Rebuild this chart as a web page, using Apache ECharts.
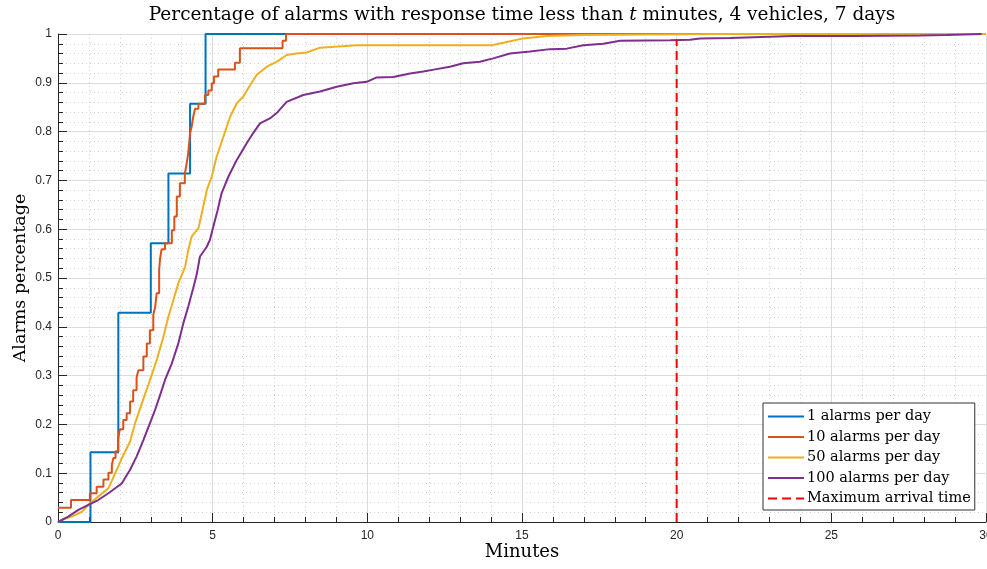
<!DOCTYPE html>
<html>
<head>
<meta charset="utf-8">
<script src="https://cdn.jsdelivr.net/npm/echarts/dist/echarts.min.js"></script>
<style>
  html, body { margin: 0; padding: 0; background: #fff; }
  #chartBox { width: 987px; height: 569px; }
</style>
</head>
<body>
<div id="chartBox"></div>
<script>
// legend names
const seriesNames = ['1 alarms per day', '10 alarms per day', '50 alarms per day', '100 alarms per day', 'Maximum arrival time']

// [minutes, fraction]
const oneAlarm = [[0, 0], [1.05, 0.143], [1.95, 0.429], [3.0, 0.571], [3.57, 0.714], [4.27, 0.857], [4.77, 1], [30, 1]]

const tenAlarms = [
  [0, 0.029], [0.42, 0.045], [1.03, 0.059], [1.25, 0.072], [1.47, 0.087], [1.63, 0.101], [1.74, 0.116],
  [1.79, 0.131], [1.86, 0.145], [1.94, 0.17], [2.0, 0.19], [2.11, 0.209], [2.22, 0.223], [2.33, 0.247],
  [2.43, 0.27], [2.54, 0.296], [2.6, 0.311], [2.76, 0.339], [2.87, 0.366], [2.97, 0.393], [3.08, 0.424],
  [3.14, 0.44], [3.19, 0.469], [3.27, 0.516], [3.3, 0.54], [3.35, 0.559], [3.46, 0.571], [3.68, 0.598],
  [3.76, 0.626], [3.84, 0.667], [3.94, 0.694], [4.1, 0.714], [4.16, 0.735], [4.21, 0.756], [4.27, 0.797],
  [4.32, 0.81], [4.37, 0.83], [4.43, 0.847], [4.54, 0.857], [4.75, 0.875], [4.86, 0.884], [4.97, 0.899],
  [5.04, 0.913], [5.18, 0.927], [5.72, 0.941], [5.88, 0.971], [7.26, 0.986], [7.37, 1], [30, 1]
]

const fiftyAlarms = [
  [0, 0], [0.12, 0.004], [0.44, 0.011], [0.77, 0.021], [1.03, 0.038], [1.3, 0.052], [1.63, 0.069],
  [1.9, 0.107], [2.06, 0.13], [2.33, 0.165], [2.49, 0.202], [2.71, 0.243], [2.92, 0.281], [3.08, 0.311],
  [3.19, 0.332], [3.41, 0.38], [3.57, 0.421], [3.73, 0.455], [3.89, 0.489], [4.11, 0.523], [4.21, 0.557],
  [4.32, 0.585], [4.54, 0.602], [4.67, 0.639], [4.81, 0.68], [4.97, 0.708], [5.13, 0.749], [5.35, 0.79],
  [5.56, 0.83], [5.78, 0.858], [5.99, 0.872], [6.21, 0.895], [6.42, 0.916], [6.75, 0.933], [7.07, 0.943],
  [7.39, 0.957], [7.72, 0.96], [8.04, 0.962], [8.47, 0.972], [9.66, 0.977], [14.02, 0.977], [14.4, 0.982],
  [15.04, 0.991], [15.8, 0.996], [17.0, 0.998], [21.3, 1], [30, 1]
]

const hundredAlarms = [
  [0, 0], [0.01, 0.003], [0.33, 0.011], [0.66, 0.025], [0.98, 0.035], [1.3, 0.045], [1.63, 0.059],
  [2.06, 0.079], [2.33, 0.107], [2.54, 0.134], [2.76, 0.168], [2.97, 0.202], [3.14, 0.23], [3.3, 0.26],
  [3.46, 0.291], [3.68, 0.325], [3.89, 0.366], [4.05, 0.407], [4.21, 0.441], [4.37, 0.479], [4.48, 0.506],
  [4.59, 0.544], [4.81, 0.564], [4.91, 0.578], [5.02, 0.605], [5.16, 0.639], [5.29, 0.674], [5.51, 0.708],
  [5.78, 0.742], [6.1, 0.776], [6.31, 0.797], [6.53, 0.817], [6.85, 0.827], [7.07, 0.838], [7.39, 0.861],
  [7.93, 0.875], [8.47, 0.882], [9.01, 0.892], [9.55, 0.899], [9.98, 0.902], [10.3, 0.911], [10.84, 0.912],
  [11.38, 0.919], [11.81, 0.923], [12.24, 0.928], [12.67, 0.933], [13.1, 0.94], [13.64, 0.943],
  [14.07, 0.95], [14.61, 0.96], [15.26, 0.964], [15.91, 0.969], [16.45, 0.97], [16.98, 0.977],
  [17.63, 0.98], [18.17, 0.986], [19.79, 0.987], [20.43, 0.988], [20.76, 0.991], [21.73, 0.992],
  [23.76, 0.996], [25.7, 0.996], [27.87, 0.997], [28.73, 0.998], [29.86, 1]
]

const maxArrival = [[20, 0], [20, 0.988]]

const serif = 'DejaVu Serif'
const axisColor = '#262626'

const chart = echarts.init(document.getElementById('chartBox'))
const option = {
  animation: false,
  backgroundColor: '#fff',
  title: {
    text: 'Percentage of alarms with response time less than {t|t} minutes, 4 vehicles, 7 days',
    left: 522,
    top: 6,
    padding: 0,
    textAlign: 'center',
    textStyle: {
      fontFamily: serif,
      fontSize: 18.5,
      fontWeight: 'normal',
      color: '#000',
      rich: {
        t: { fontFamily: serif, fontSize: 18.5, fontStyle: 'italic', color: '#000' }
      }
    }
  },
  legend: {
    orient: 'vertical',
    left: 763,
    top: 403,
    padding: [6, 4, 4, 4],
    itemWidth: 36,
    itemHeight: 14,
    itemGap: 5.5,
    // hide the default circle marker, keep the line sample
    itemStyle: { opacity: 0 },
    backgroundColor: '#fff',
    borderColor: '#333',
    borderWidth: 1,
    data: seriesNames,
    textStyle: { fontFamily: serif, fontSize: 14.5, color: '#000', padding: [0, 0, 0, -2] }
  },
  grid: {
    left: 58,
    right: 1,
    top: 34,
    bottom: 47,
    containLabel: false,
    outerBoundsMode: 'none'
  },
  xAxis: {
    type: 'value',
    min: 0,
    max: 30,
    interval: 5,
    name: 'Minutes',
    nameLocation: 'middle',
    nameGap: 21,
    nameMoveOverlap: false,
    nameTextStyle: { fontFamily: serif, fontSize: 18, color: '#000', verticalAlign: 'top' },
    axisLine: { lineStyle: { color: axisColor, width: 1 } },
    axisTick: { inside: true, length: 9, lineStyle: { color: axisColor } },
    minorTick: { show: true, splitNumber: 5, length: 5, lineStyle: { color: axisColor } },
    axisLabel: { color: axisColor, fontSize: 12, fontFamily: 'Liberation Sans', margin: 8 },
    splitLine: { show: true, lineStyle: { color: '#dcdcdc', width: 1 } },
    minorSplitLine: { show: true, lineStyle: { color: '#d2d2d2', width: 1, type: [1, 3] } }
  },
  yAxis: {
    type: 'value',
    min: 0,
    max: 1,
    interval: 0.1,
    name: 'Alarms percentage',
    nameLocation: 'middle',
    nameGap: 29,
    nameMoveOverlap: false,
    nameTextStyle: { fontFamily: serif, fontSize: 17.5, color: '#000' },
    axisLine: { show: true, lineStyle: { color: axisColor, width: 1 } },
    axisTick: { show: true, inside: true, length: 9, lineStyle: { color: axisColor } },
    minorTick: { show: true, splitNumber: 5, length: 5, lineStyle: { color: axisColor } },
    axisLabel: { color: axisColor, fontSize: 12, fontFamily: 'Liberation Sans', margin: 6 },
    splitLine: { show: true, lineStyle: { color: '#dcdcdc', width: 1 } },
    minorSplitLine: { show: true, lineStyle: { color: '#d2d2d2', width: 1, type: [1, 3] } }
  },
  series: [
    {
      name: seriesNames[0],
      type: 'line',
      step: 'end',
      data: oneAlarm,
      symbol: 'none',
      lineStyle: { color: '#0072BD', width: 2 },
      itemStyle: { color: '#0072BD' }
    },
    {
      name: seriesNames[1],
      type: 'line',
      step: 'end',
      data: tenAlarms,
      symbol: 'none',
      lineStyle: { color: '#D95319', width: 2 },
      itemStyle: { color: '#D95319' }
    },
    {
      name: seriesNames[2],
      type: 'line',
      data: fiftyAlarms,
      symbol: 'none',
      lineStyle: { color: '#EDB120', width: 2 },
      itemStyle: { color: '#EDB120' }
    },
    {
      name: seriesNames[3],
      type: 'line',
      data: hundredAlarms,
      symbol: 'none',
      lineStyle: { color: '#7E2F8E', width: 2 },
      itemStyle: { color: '#7E2F8E' }
    },
    {
      name: seriesNames[4],
      type: 'line',
      data: maxArrival,
      symbol: 'none',
      lineStyle: { color: '#FF0000', width: 2, type: [9, 5] },
      itemStyle: { color: '#FF0000' }
    }
  ]
}
chart.setOption(option)
</script>
</body>
</html>
